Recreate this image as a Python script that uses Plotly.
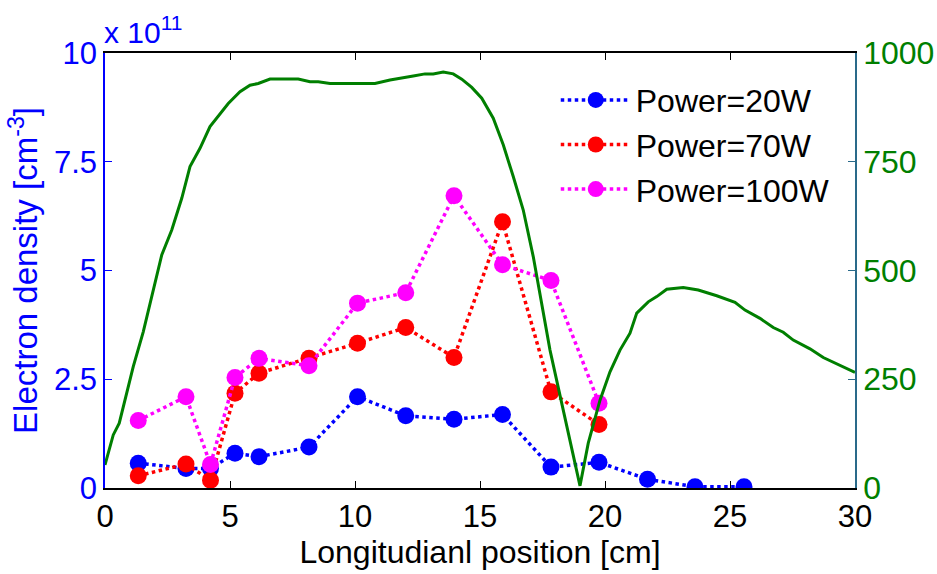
import plotly.graph_objects as go

# Electron density (x 10^11 cm^-3)
x_pts = [1.33, 3.24, 4.22, 5.2, 6.16, 8.16, 10.1, 12.03, 13.96, 15.9, 17.84, 19.76, 21.7, 23.6, 25.56]
p20 = [0.57, 0.45, 0.45, 0.80, 0.72, 0.94, 2.10, 1.66, 1.58, 1.69, 0.48, 0.59, 0.20, 0.03, 0.03]
x_pts2 = [1.33, 3.24, 4.22, 5.2, 6.16, 8.16, 10.1, 12.03, 13.96, 15.9, 17.84, 19.76]
p70 = [0.28, 0.55, 0.18, 2.18, 2.64, 2.98, 3.33, 3.69, 3.00, 6.12, 2.21, 1.46]
p100 = [1.55, 2.10, 0.54, 2.54, 2.98, 2.81, 4.25, 4.49, 6.72, 5.13, 4.77, 1.95]

# Green profile (right axis)
gx = [0.0, 0.33, 0.57, 1.13, 1.53, 1.93, 2.27, 2.67, 3.07, 3.4, 3.8, 4.2, 4.93, 5.4, 5.8,
      6.13, 6.6, 7.73, 8.2, 8.53, 9.0, 10.8, 11.4, 12.33, 12.8, 13.13, 13.53, 13.93, 14.27,
      14.67, 15.07, 15.53, 15.93, 16.33, 16.73, 17.13, 17.53, 17.8, 19.0, 19.33, 19.8, 20.2,
      20.6, 21.0, 21.27, 21.73, 22.07, 22.47, 23.13, 23.73, 24.47, 25.2, 25.6, 26.2, 26.73,
      27.13, 27.53, 28.2, 28.73, 29.4, 30.0]
gy = [53, 122, 149, 279, 359, 455, 536, 593, 666, 739, 781, 831, 884, 911, 926,
      930, 940, 940, 934, 934, 930, 930, 938, 947, 952, 952, 956, 952, 940,
      921, 896, 850, 789, 716, 639, 532, 409, 317, 5, 103, 202, 267,
      317, 356, 402, 428, 440, 457, 461, 455, 442, 427, 409, 390, 369,
      358, 340, 320, 300, 283, 266]

left_ticks = [0, 2.5, 5, 7.5, 10]
left_labels = ["0", "2.5", "5", "7.5", "10"]
right_ticks = [0, 250, 500, 750, 1000]
x_ticks = [0, 5, 10, 15, 20, 25, 30]

FONT = "Liberation Sans, Arial, sans-serif"

fig = go.Figure()
for xs, ys, name, col in [(x_pts, p20, "Power=20W", "#0000ff"),
                          (x_pts2, p70, "Power=70W", "#ff0000"),
                          (x_pts2, p100, "Power=100W", "#ff00ff")]:
    fig.add_trace(go.Scatter(x=xs, y=ys, name=name, mode="lines+markers",
                             line=dict(color=col, width=3.5, dash="dot"),
                             marker=dict(color=col, size=17)))

fig.add_trace(go.Scatter(x=gx, y=gy, yaxis="y2", mode="lines", showlegend=False,
                         line=dict(color="#007f00", width=3)))

fig.update_layout(
    width=937, height=574,
    margin=dict(l=105, r=82, t=53, b=86),
    paper_bgcolor="white", plot_bgcolor="white",
    font=dict(family=FONT, size=31, color="black"),
    showlegend=True,
    legend=dict(x=0.601, y=0.955, xanchor="left", yanchor="top",
                bgcolor="rgba(0,0,0,0)", font=dict(size=32, color="black"),
                tracegroupgap=0, itemwidth=70),
    xaxis=dict(range=[0, 30], tickvals=x_ticks, ticks="inside", ticklen=7,
               tickcolor="black", showline=True, linecolor="black", linewidth=1.5,
               mirror="ticks", showgrid=False, zeroline=False, automargin=False,
               tickfont=dict(size=31, color="black"),
               title=dict(text="Longitudianl position [cm]", font=dict(size=32, color="black"),
                          standoff=4)),
    yaxis=dict(range=[0, 10], tickvals=left_ticks, ticktext=left_labels, ticks="inside",
               ticklen=7, tickcolor="#0000ff", showline=True, linecolor="#0000ff",
               linewidth=1.5, showgrid=False, zeroline=False, automargin=False,
               tickfont=dict(size=31, color="#0000ff"),
               title=dict(text="Electron density [cm<sup>-3</sup>]",
                          font=dict(size=33, color="#0000ff"), standoff=6)),
    yaxis2=dict(range=[0, 1000], tickvals=right_ticks, overlaying="y", side="right",
                ticks="inside", ticklen=7, tickcolor="#2a6a8a", showline=True,
                linecolor="#2a6a8a", linewidth=1.5, showgrid=False, zeroline=False,
                automargin=False, tickfont=dict(size=32, color="#007f00")),
    annotations=[dict(text="x 10<sup>11</sup>", xref="paper", yref="paper",
                      x=-0.004, y=1.0, xanchor="left", yanchor="bottom", yshift=2,
                      showarrow=False, font=dict(size=30, color="#0000ff"))],
)

fig.write_html("out.html")
